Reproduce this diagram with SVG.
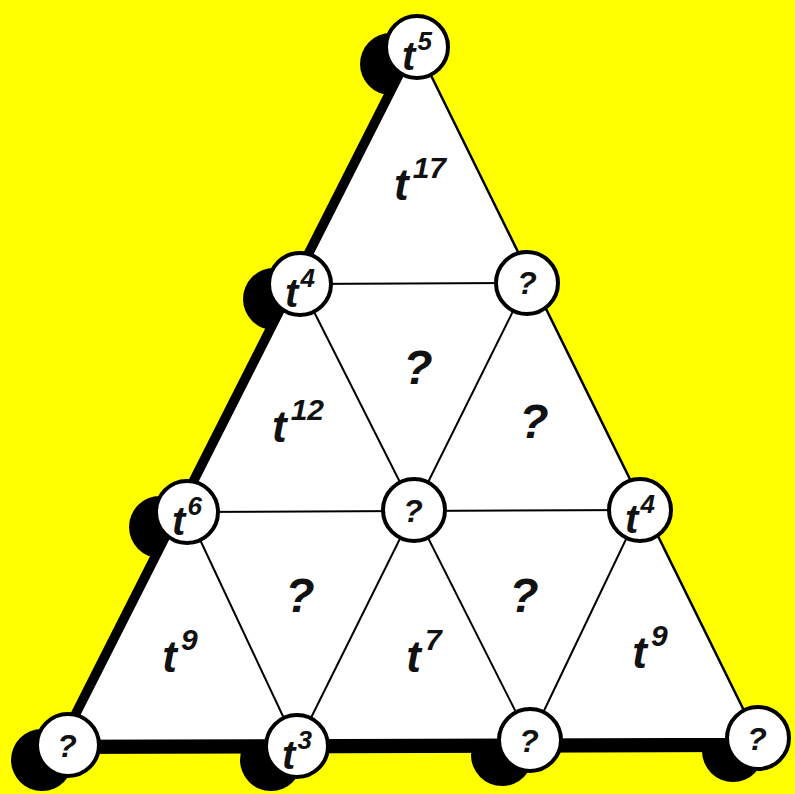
<svg xmlns="http://www.w3.org/2000/svg" width="795" height="794" viewBox="0 0 795 794">
  <style>
    .bg { fill: #ffff00; }
    .shadow { fill: #000; }
    .face { fill: #fff; stroke: #000; stroke-width: 2.5; stroke-linejoin: round; }
    .edge { stroke: #000; stroke-width: 2; fill: none; }
    .node circle { fill: #fff; stroke: #000; stroke-width: 4; }
    text { font-family: "Liberation Sans", Arial, sans-serif; font-weight: bold; font-style: italic; fill: #111; text-anchor: middle; }
    .nl { font-size: 40px; }
    .ns { font-size: 26px; }
    .nq { font-size: 32px; }
    .tl { font-size: 44px; }
    .ts { font-size: 30px; }
    .tq { font-size: 48px; }
  </style>

  <rect class="bg" x="0" y="0" width="795" height="794"/>

  <!-- shadow layer -->
  <g id="shadow">
    <polygon class="shadow" points="401,60 50,754 742,752"/>
    <circle class="shadow" cx="391" cy="64" r="31"/>
    <circle class="shadow" cx="274" cy="299" r="31"/>
    <circle class="shadow" cx="160" cy="527" r="31"/>
    <circle class="shadow" cx="42" cy="760" r="31"/>
    <circle class="shadow" cx="271" cy="760" r="31"/>
    <circle class="shadow" cx="502" cy="755" r="31"/>
    <circle class="shadow" cx="733" cy="751" r="31"/>
  </g>

  <!-- triangle face -->
  <polygon class="face" points="417,47 66,741 758,739"/>

  <!-- connectors -->
  <g id="connectors">
    <line class="edge" x1="300" y1="284" x2="527" y2="283"/>
    <line class="edge" x1="187" y1="512" x2="640" y2="510"/>
    <line class="edge" x1="300" y1="284" x2="530" y2="740"/>
    <line class="edge" x1="527" y1="283" x2="297" y2="746"/>
    <line class="edge" x1="187" y1="512" x2="297" y2="746"/>
    <line class="edge" x1="640" y1="510" x2="530" y2="740"/>
  </g>

  <!-- region labels -->
  <g id="regions">
    <text class="tl" x="420" y="200">t<tspan class="ts" dx="4" dy="-22">17</tspan></text>
    <text class="tq" x="418" y="384">?</text>
    <text class="tl" x="298" y="442">t<tspan class="ts" dx="4" dy="-22">12</tspan></text>
    <text class="tq" x="534" y="438">?</text>
    <text class="tq" x="300" y="612">?</text>
    <text class="tq" x="524" y="612">?</text>
    <text class="tl" x="180" y="672">t<tspan class="ts" dx="4" dy="-22">9</tspan></text>
    <text class="tl" x="424" y="672">t<tspan class="ts" dx="4" dy="-22">7</tspan></text>
    <text class="tl" x="650" y="668">t<tspan class="ts" dx="4" dy="-22">9</tspan></text>
  </g>

  <!-- nodes -->
  <g id="nA" class="node"><circle cx="417" cy="47" r="31"/><text class="nl" x="417" y="70">t<tspan class="ns" dx="2" dy="-20">5</tspan></text></g>
  <g id="nB" class="node"><circle cx="300" cy="284" r="31"/><text class="nl" x="300" y="307">t<tspan class="ns" dx="2" dy="-20">4</tspan></text></g>
  <g id="nC" class="node"><circle cx="527" cy="283" r="31"/><text class="nq" x="527" y="294">?</text></g>
  <g id="nD" class="node"><circle cx="187" cy="512" r="31"/><text class="nl" x="187" y="535">t<tspan class="ns" dx="2" dy="-20">6</tspan></text></g>
  <g id="nE" class="node"><circle cx="414" cy="510" r="31"/><text class="nq" x="413" y="522">?</text></g>
  <g id="nF" class="node"><circle cx="640" cy="510" r="31"/><text class="nl" x="640" y="533">t<tspan class="ns" dx="2" dy="-20">4</tspan></text></g>
  <g id="nG" class="node"><circle cx="68" cy="745" r="31"/><text class="nq" x="67" y="757">?</text></g>
  <g id="nH" class="node"><circle cx="297" cy="746" r="31"/><text class="nl" x="297" y="769">t<tspan class="ns" dx="2" dy="-20">3</tspan></text></g>
  <g id="nI" class="node"><circle cx="530" cy="740" r="31"/><text class="nq" x="529" y="752">?</text></g>
  <g id="nJ" class="node"><circle cx="758" cy="738" r="31"/><text class="nq" x="757" y="750">?</text></g>
</svg>
